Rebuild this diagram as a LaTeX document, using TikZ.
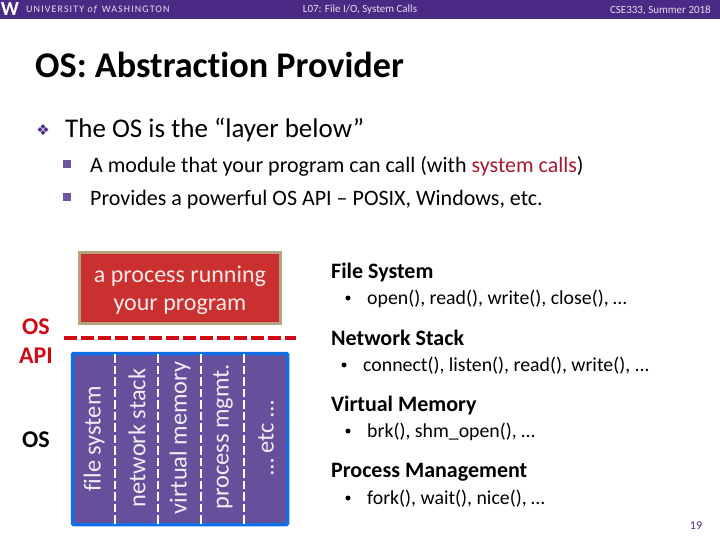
\documentclass[tikz,border=0pt]{standalone}
\usepackage{fontspec}
\setmainfont{Carlito}[Ligatures=NoCommon]
\newfontfamily\symfont{DejaVu Sans}
\usetikzlibrary{positioning,calc}
\definecolor{uwPurple}{HTML}{4B2A85}
\definecolor{uwGold}{HTML}{B5A27F}
\definecolor{procRed}{HTML}{C9302F}
\definecolor{osPurple}{HTML}{66509B}
\definecolor{osBlue}{HTML}{0F6FE8}
\definecolor{apiRed}{HTML}{D00A14}
\definecolor{callRed}{HTML}{A6192E}

\begin{document}
\begin{tikzpicture}[x=1pt,y=-1pt,
    txt/.style={anchor=west,inner sep=0pt,text=black},
    head/.style={inner sep=0pt,text=white!85!uwPurple,font=\fontsize{11}{13}\selectfont},
    sub/.style={txt,font=\fontsize{22}{26}\selectfont},
    sqr/.style={fill=uwPurple!80,minimum size=8pt,inner sep=0pt},
    sys/.style={txt,font=\fontsize{22}{26}\selectfont\bfseries},
    call/.style={txt,font=\fontsize{19.8}{24}\selectfont},
    dotb/.style={circle,fill=black,minimum size=5pt,inner sep=0pt},
    lay/.style={rotate=90,inner sep=0pt,text=white!90!osPurple,font=\fontsize{24.4}{28}\selectfont},
    side/.style={inner sep=0pt,font=\fontsize{24}{28}\selectfont\bfseries},
    sep/.style={white,line width=1.8pt,dash pattern=on 8.5pt off 3pt}]

  \useasboundingbox (0,0) rectangle (720,540);

  % header
  \fill[uwPurple] (0,0) rectangle (720,19);
  \node[inner sep=0pt,text=white,font=\fontsize{20}{20}\selectfont\bfseries] (logo) at (10,9.5) {W};
  \node[head,anchor=west,font=\fontsize{10}{12}\selectfont] (uw) at (26,9.5) {\addfontfeature{LetterSpace=11}UNIVERSITY \textit{of} WASHINGTON};
  \node[head] (lec) at (360,10) {L07: File I/O, System Calls};
  \node[head,anchor=east] (crs) at (711,10) {CSE333, Summer 2018};

  % title
  \node[txt,font=\fontsize{36.2}{42}\selectfont\bfseries] (title) at (35,65) {OS: Abstraction Provider};

  % bullets
  \node[inner sep=0pt,text=uwPurple,font=\symfont\fontsize{15}{16}\selectfont] (dia) at (43,130) {❖};
  \node[txt,font=\fontsize{27}{31}\selectfont] (b1) at (65,130) {The OS is the “layer below”};
  \node[sqr] (s1) at (67,164) {};
  \node[sub] (t1) at (90,166) {A module that your program can call (with \textcolor{callRed}{system calls})};
  \node[sqr] (s2) at (67,197) {};
  \node[sub] (t2) at (90,200) {Provides a powerful OS API – POSIX, Windows, etc.};

  % process
  \node[draw=uwGold,fill=procRed,line width=3pt,minimum width=201pt,minimum height=71pt] (proc) at (180,288) {};
  \node[align=center,inner sep=0pt,text=white!90!procRed,font=\fontsize{24}{28}\selectfont] (procT) at (180,290)
        {a process running\\your program};

  % API line
  \coordinate (apiL) at (64,338);
  \coordinate (apiR) at (296,338);
  \draw[apiRed,line width=3.5pt,dash pattern=on 12.5pt off 4.5pt] (apiL) -- (apiR);
  \node[side,text=apiRed] (os1) at (36,327) {OS};
  \node[side,text=apiRed] (api) at (36,356) {API};
  \node[side] (os2) at (36,440) {OS};

  % kernel
  \node[draw=osBlue,fill=osPurple,line width=3.5pt,rounded corners=1pt,minimum width=215pt,minimum height=171pt] (kern) at (180,439) {};
  \foreach \x in {115,158,201,244}
    \draw[sep] (\x,354) -- (\x,524);
  \node[lay] (fs) at (94,439) {file system};
  \node[lay] (ns) at (137,438) {network stack};
  \node[lay] (vm) at (180,438) {virtual memory};
  \node[lay] (pm) at (223,437) {process mgmt.};
  \node[lay] (et) at (266,438) {… etc …};

  % system calls
  \node[sys] (h1) at (331,273) {File System};
  \node[dotb] (d1) at (348,298) {};
  \node[call] (c1) at (367,299) {open(), read(), write(), close(), …};
  \node[sys] (h2) at (331,338) {Network Stack};
  \node[dotb] (d2) at (344,365) {};
  \node[call] (c2) at (363,366) {connect(), listen(), read(), write(), ...};
  \node[sys] (h3) at (331,406) {Virtual Memory};
  \node[dotb] (d3) at (348,431) {};
  \node[call] (c3) at (367,432) {brk(), shm\_open(), …};
  \node[sys] (h4) at (331,472) {Process Management};
  \node[dotb] (d4) at (348,498) {};
  \node[call] (c4) at (367,499) {fork(), wait(), nice(), …};

  \node[inner sep=0pt,text=uwPurple,font=\fontsize{12}{14}\selectfont] (num) at (696,526) {19};
\end{tikzpicture}
\end{document}
